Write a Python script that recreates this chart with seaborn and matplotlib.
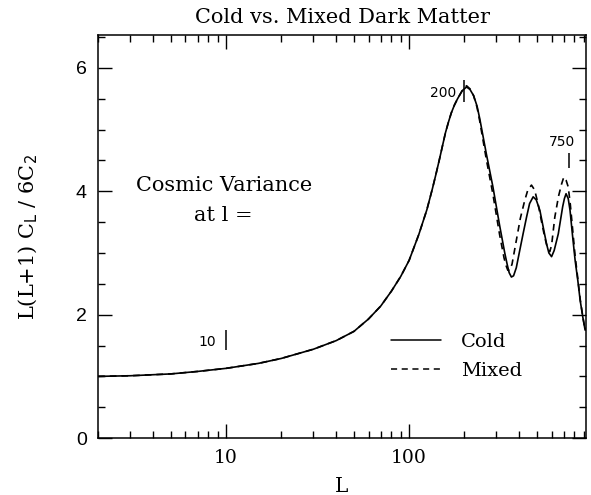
import numpy as np
import pandas as pd
import matplotlib
matplotlib.use("Agg")
import matplotlib.pyplot as plt
from matplotlib import ticker
from matplotlib.lines import Line2D
import seaborn as sns

# Multipole moments and normalised power L(L+1)C_L / 6C_2
L_low = [2, 3, 5, 7, 10, 15, 20, 30, 40, 50, 60, 70, 80, 90, 100,
         113, 125, 134, 140, 146, 152, 158, 164, 170, 177, 184, 195]
power_low = [1.00, 1.01, 1.04, 1.08, 1.13, 1.21, 1.29, 1.44, 1.58, 1.73,
             1.93, 2.14, 2.38, 2.62, 2.88, 3.30, 3.70, 4.04, 4.27, 4.50,
             4.73, 4.95, 5.12, 5.27, 5.40, 5.50, 5.63]

L_cold_tail = [206, 215, 225, 235, 243, 264, 287, 312, 333, 343, 352, 362,
               372, 385, 402, 420, 438, 455, 476, 495, 518, 540, 563, 580,
               600, 620, 653, 690, 705, 720, 740, 757, 780, 807, 835, 860,
               890, 915, 940]
cold_tail = [5.69, 5.65, 5.55, 5.38, 5.18, 4.61, 4.07, 3.45, 3.00, 2.82, 2.68,
             2.61, 2.63, 2.76, 3.04, 3.32, 3.58, 3.80, 3.91, 3.86, 3.69, 3.42,
             3.15, 3.00, 2.94, 3.04, 3.31, 3.75, 3.88, 3.96, 3.88, 3.69, 3.30,
             2.88, 2.55, 2.23, 1.95, 1.75, 1.80]

L_mixed_tail = [206, 215, 225, 235, 243, 264, 287, 312, 330, 338, 346, 355,
                365, 385, 405, 428, 445, 466, 485, 506, 528, 550, 570, 586,
                600, 625, 655, 681, 700, 720, 740, 760, 780, 807, 835, 860,
                890, 915, 940]
mixed_tail = [5.71, 5.66, 5.55, 5.36, 5.14, 4.52, 3.95, 3.30, 2.92, 2.80,
              2.72, 2.72, 2.82, 3.20, 3.56, 3.85, 4.02, 4.10, 4.02, 3.80,
              3.52, 3.26, 3.08, 3.02, 3.12, 3.58, 3.92, 4.12, 4.23, 4.18,
              4.07, 3.78, 3.42, 2.95, 2.58, 2.25, 1.96, 1.75, 1.80]

# Cosmic variance error bars
cv_L = [10, 200, 750]
cv_lo = [1.43, 5.45, 4.37]
cv_hi = [1.75, 5.80, 4.62]
cv_labels = ["10", "200", "750"]
cv_label_x = [8.8, 182, 680]
cv_label_y = [1.55, 5.60, 4.80]
cv_label_ha = ["right", "right", "center"]

models = ["Cold", "Mixed"]

df = pd.concat([
    pd.DataFrame({"L": L_low + L_cold_tail, "power": power_low + cold_tail,
                  "model": "Cold"}),
    pd.DataFrame({"L": L_low + L_mixed_tail, "power": power_low + mixed_tail,
                  "model": "Mixed"}),
], ignore_index=True)

sns.set_theme(style="ticks")
plt.rcParams["font.family"] = ["DejaVu Serif"]
plt.rcParams.update({
    "axes.linewidth": 1.1,
    "text.color": "black",
    "axes.labelcolor": "black",
    "axes.edgecolor": "black",
    "xtick.color": "black",
    "ytick.color": "black",
})

fig = plt.figure(figsize=(5.91, 4.95), dpi=100)
ax = fig.add_axes([0.166, 0.115, 0.8255, 0.814])

dash_styles = {"Cold": "", "Mixed": (4, 3)}
sns.lineplot(data=df, x="L", y="power", style="model", dashes=dash_styles,
             color="black", linewidth=1.2, ax=ax, legend=False,
             estimator=None, sort=True)

ax.set_xscale("log")
ax.set_xlim(2, 925)
ax.set_ylim(0, 6.53)

ax.set_xticks([10, 100])
ax.xaxis.set_major_formatter(ticker.FixedFormatter(["10", "100"]))
ax.xaxis.set_minor_locator(ticker.LogLocator(base=10, subs=np.arange(2, 10)))
ax.xaxis.set_minor_formatter(ticker.NullFormatter())
ax.yaxis.set_major_locator(ticker.MultipleLocator(2))
ax.yaxis.set_minor_locator(ticker.MultipleLocator(0.5))
ax.yaxis.set_major_formatter(ticker.FormatStrFormatter("%d"))

ax.tick_params(which="both", direction="in", top=True, right=True,
               color="black", width=1.0)
ax.tick_params(which="major", length=10, pad=8)
ax.tick_params(which="minor", length=5)
for lab in ax.get_xticklabels():
    lab.set_fontfamily("DejaVu Serif")
    lab.set_fontsize(13.5)
for lab in ax.get_yticklabels():
    lab.set_fontfamily("Liberation Sans")
    lab.set_fontsize(14)

ax.set_title("Cold vs. Mixed Dark Matter", fontsize=15, pad=9)
ax.set_xlabel("L", fontsize=14.5, labelpad=7)
ax.set_ylabel(r"L(L+1) C$_{\rm L}$ / 6C$_2$", fontsize=15, labelpad=26)

# Cosmic variance markers
ax.vlines(cv_L, cv_lo, cv_hi, color="black", linewidth=1.1)
for x, y, t, ha in zip(cv_label_x, cv_label_y, cv_labels, cv_label_ha):
    ax.text(x, y, t, ha=ha, va="center", fontsize=10,
            fontfamily="DejaVu Sans")

ax.text(9.7, 4.10, "Cosmic Variance", ha="center", va="center", fontsize=15)
ax.text(9.7, 3.61, "at l =", ha="center", va="center", fontsize=15)

handles = [Line2D([], [], color="black", linewidth=1.1, linestyle="-"),
           Line2D([], [], color="black", linewidth=1.1, linestyle=(0, (4, 3)))]
ax.legend(handles, models, loc="center left", bbox_to_anchor=(0.60, 0.2025),
          frameon=False, borderpad=0, borderaxespad=0, handlelength=2.6,
          handletextpad=1.0, labelspacing=0.55, prop={"family": "DejaVu Serif",
                                                      "size": 14})

fig.savefig("out.png", dpi=100)
